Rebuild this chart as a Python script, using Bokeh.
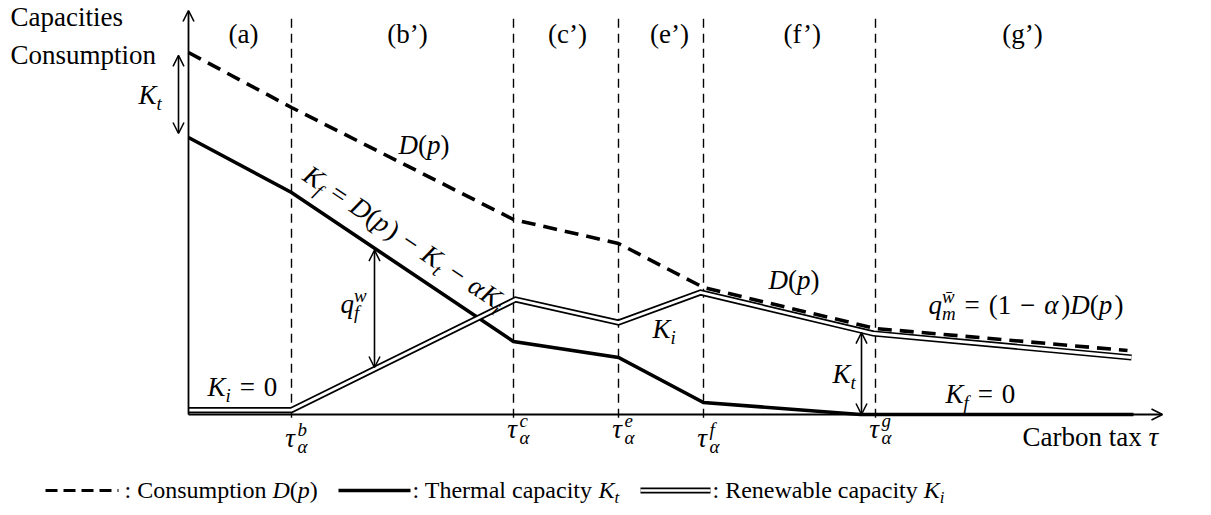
import math
import numpy as np
from bokeh.plotting import figure
from bokeh.models import Range1d, Arrow, OpenHead, ColumnDataSource
from bokeh.core.properties import value
from bokeh.embed import file_html
from bokeh.resources import INLINE

# ---------------- data (schematic values) ----------------
tau_names = ["b", "c", "e", "f", "g"]
tau_pos = [1.03, 3.25, 4.30, 5.15, 6.87]
regions = ["(a)", "(b’)", "(c’)", "(e’)", "(f’)", "(g’)"]
region_x = [0.55, 2.19, 3.79, 4.81, 6.13, 8.34]

demand_x = [0.0, 1.03, 3.25, 4.30, 5.15, 6.87, 9.39]
demand_y = [9.05, 7.675, 4.875, 4.275, 3.175, 2.15, 1.60]

thermal_x = [0.0, 1.03, 3.25, 4.30, 5.15, 6.72, 9.45]
thermal_y = [6.925, 5.55, 1.825, 1.425, 0.30, 0.0, 0.0]

renew_x = [0.0, 1.03, 3.27, 4.30, 5.12, 6.85, 9.43]
renew_y = [0.11, 0.11, 2.875, 2.30, 3.05, 2.025, 1.425]

arrow_kt_left_x = -0.10
arrow_qf_x = 1.86
arrow_kt_right_x = 6.73

# ---------------- figure ----------------
W, H = 1211, 515
X0, X1 = -1.88, 10.23
Y0, Y1 = -2.525, 10.35
XS = W / (X1 - X0)
YS = H / (Y1 - Y0)

p = figure(width=W, height=H, x_range=Range1d(X0, X1), y_range=Range1d(Y0, Y1),
           x_axis_type=None, y_axis_type=None, toolbar_location=None,
           output_backend="svg", min_border=0)
p.outline_line_color = None
p.grid.visible = False
p.background_fill_color = "white"
p.border_fill_color = "white"

FONT = "Liberation Serif"
S = 27
KB = 0.32  # baseline compensation (fraction of font size)

# vertical dashed separators
p.segment(x0=tau_pos, y0=[-0.08] * len(tau_pos), x1=tau_pos, y1=[9.95] * len(tau_pos),
          line_color="black", line_width=1.4, line_dash="9 6")

# axes with arrow heads
p.add_layout(Arrow(end=OpenHead(size=11, line_width=1.6), x_start=0, y_start=0, x_end=0, y_end=10.1,
                   line_width=1.8, line_color="black"))
p.add_layout(Arrow(end=OpenHead(size=11, line_width=1.6), x_start=0, y_start=0, x_end=9.74, y_end=0,
                   line_width=1.8, line_color="black"))

# consumption (dashed)
p.line(demand_x, demand_y, line_color="black", line_width=3.6, line_dash="14 8")
# thermal capacity (thick)
p.line(thermal_x, thermal_y, line_color="black", line_width=3.6, line_join="miter")
# renewable capacity (double line)
p.line(renew_x, renew_y, line_color="black", line_width=6.2, line_join="miter")
p.line(renew_x, renew_y, line_color="white", line_width=2.8, line_join="miter")

# measurement arrows
def darrow(x, ya, yb):
    p.add_layout(Arrow(start=OpenHead(size=11, line_width=1.5), end=OpenHead(size=11, line_width=1.5),
                       x_start=x, y_start=ya, x_end=x, y_end=yb, line_width=1.6, line_color="black"))

darrow(arrow_kt_left_x, float(np.interp(arrow_kt_left_x, demand_x, demand_y)) - 0.07,
       float(np.interp(0.0, thermal_x, thermal_y)) + 0.10)
darrow(arrow_qf_x, float(np.interp(arrow_qf_x, thermal_x, thermal_y)) - 0.05,
       float(np.interp(arrow_qf_x, renew_x, renew_y)) + 0.04)
darrow(arrow_kt_right_x, float(np.interp(arrow_kt_right_x, renew_x, renew_y)) - 0.05,
       float(np.interp(arrow_kt_right_x, thermal_x, thermal_y)))

# ---------------- text machinery ----------------
WN = {' ': .25, '(': .333, ')': .333, '’': .333, ':': .278, '=': .564, '−': .564,
      'a': .444, 'b': .5, 'c': .444, 'e': .444, 'f': .333, 'g': .5, 'h': .5, 'i': .278,
      'l': .278, 'm': .778, 'n': .5, 'o': .5, 'p': .5, 'r': .333, 's': .389, 't': .278,
      'u': .5, 'w': .722, 'x': .5, 'y': .5, 'C': .667, 'R': .667, 'T': .611,
      'τ': .44, 'α': .52}
WI = {'K': .667, 'D': .722, 'p': .5, 't': .278, 'f': .278, 'i': .278, 'm': .722,
      'w': .667, 'q': .5, 'b': .5, 'c': .444, 'e': .444, 'g': .5, 'α': .55, 'τ': .45,
      '(': .333, ')': .333}

rows = dict(x=[], y=[], text=[], size=[], style=[], angle=[])

def twidth(s, style, size):
    tab = WI if style == "i" else WN
    return sum(tab.get(c, WN.get(c, .5)) for c in s if c != '\u0304') * size

def mtext(x, y, pieces, size=S, angle_deg=0.0, align="left"):
    th = math.radians(angle_deg)
    dirx, diry = math.cos(th), -math.sin(th)      # screen, y down
    upx, upy = -math.sin(th), -math.cos(th)
    items = []
    a = 0.0
    pending = 0.0
    for pc in pieces:
        t, st, role = pc[0], pc[1], pc[2]
        adv = pc[3] if len(pc) > 3 else True
        if st == "gap":                     # pure spacing, in em
            a += float(t) * size
            continue
        fs = size if role == "b" else size * 0.7
        if role == "b":
            sh = 0.0
        elif role == "sub":
            sh = -0.22 * size
        else:
            sh = 0.42 * size
        sh += KB * fs
        w = twidth(t, st, fs)
        items.append((t, st, fs, a, sh))
        if adv:
            a += max(w, pending)
            pending = 0.0
        else:
            pending = w
    total = a
    start = -total / 2 if align == "center" else 0.0
    for t, st, fs, aa, sh in items:
        a2 = aa + start
        ox = a2 * dirx + sh * upx
        oy = a2 * diry + sh * upy
        rows["x"].append(x + ox / XS)
        rows["y"].append(y - oy / YS)
        rows["text"].append(t)
        rows["size"].append(f"{fs:.1f}px")
        rows["style"].append("italic" if st == "i" else "normal")
        rows["angle"].append(th)

N = lambda t: (t, "n", "b")
I = lambda t: (t, "i", "b")
SUBI = lambda t: (t, "i", "sub")
SUPI = lambda t: (t, "i", "sup", False)
G = ("0.33", "gap", "b")     # math space around relations / binary ops
g = ("0.08", "gap", "b")     # small italic correction

# axis titles
mtext(-1.78, 9.725, [N("Capacities")])
mtext(-1.78, 8.775, [N("Consumption")])
mtext(8.34, -0.775, [N("Carbon tax "), I("τ")])

# region labels
for rx, lab in zip(region_x, regions):
    mtext(rx, 9.3, [N(lab)], align="center")

# tick labels
for tx, nm in zip(tau_pos, tau_names):
    yb = -0.80 if nm in ("b", "f") else -0.58
    mtext(tx + 0.05, yb, [I("τ"), SUPI(nm), SUBI("α")], align="center")

# annotations
mtext(-0.50, 7.775, [I("K"), SUBI("t")])
mtext(2.10, 6.525, [I("D"), N("("), I("p"), N(")")])
mtext(5.80, 3.15, [I("D"), N("("), I("p"), N(")")])
mtext(4.64, 1.925, [I("K"), SUBI("i")])
mtext(0.19, 0.475, [I("K"), SUBI("i"), G, N("="), G, N("0")])
mtext(7.57, 0.30, [I("K"), SUBI("f"), G, N("="), G, N("0")])
mtext(6.44, 0.80, [I("K"), SUBI("t")])
mtext(1.52, 2.55, [I("q"), SUPI("w"), SUBI("f")])
mtext(7.40, 2.525, [I("q"), SUPI("w\u0304"), SUBI("m"), G, N("="), G, N("(1"), G,
                    N("−"), G, I("α"), g, N(")"), I("D"), N("("), I("p"), g, N(")")])

ang = -math.degrees(math.atan2((thermal_y[1] - thermal_y[2]) * YS, (thermal_x[2] - thermal_x[1]) * XS))
mtext(1.13, 5.89, [I("K"), SUBI("f"), G, N("="), G, I("D"), N("("), I("p"), g, N(")"), G,
                   N("−"), G, I("K"), SUBI("t"), G, N("−"), G, I("α"), I("K"), SUBI("i")],
      angle_deg=ang)

# legend
LY = -1.90
LB = -2.075
LS = 24
p.line([-1.43, -0.70], [LY, LY], line_color="black", line_width=3.2, line_dash="12 6")
mtext(-0.64, LB, [N(": Consumption "), I("D"), N("("), I("p"), N(")")], size=LS)
p.line([1.50, 2.22], [LY, LY], line_color="black", line_width=3.4)
mtext(2.24, LB, [N(": Thermal capacity "), I("K"), SUBI("t")], size=LS)
p.line([4.52, 5.22], [LY, LY], line_color="black", line_width=6.0)
p.line([4.52, 5.22], [LY, LY], line_color="white", line_width=2.6)
mtext(5.24, LB, [N(": Renewable capacity "), I("K"), SUBI("i")], size=LS)

src = ColumnDataSource(rows)
p.text(x="x", y="y", text="text", source=src, text_font=value(FONT), text_font_size="size",
       text_font_style="style", angle="angle", text_align="left", text_baseline="alphabetic",
       text_color="black")

open("out.html", "w").write(file_html(p, INLINE))
